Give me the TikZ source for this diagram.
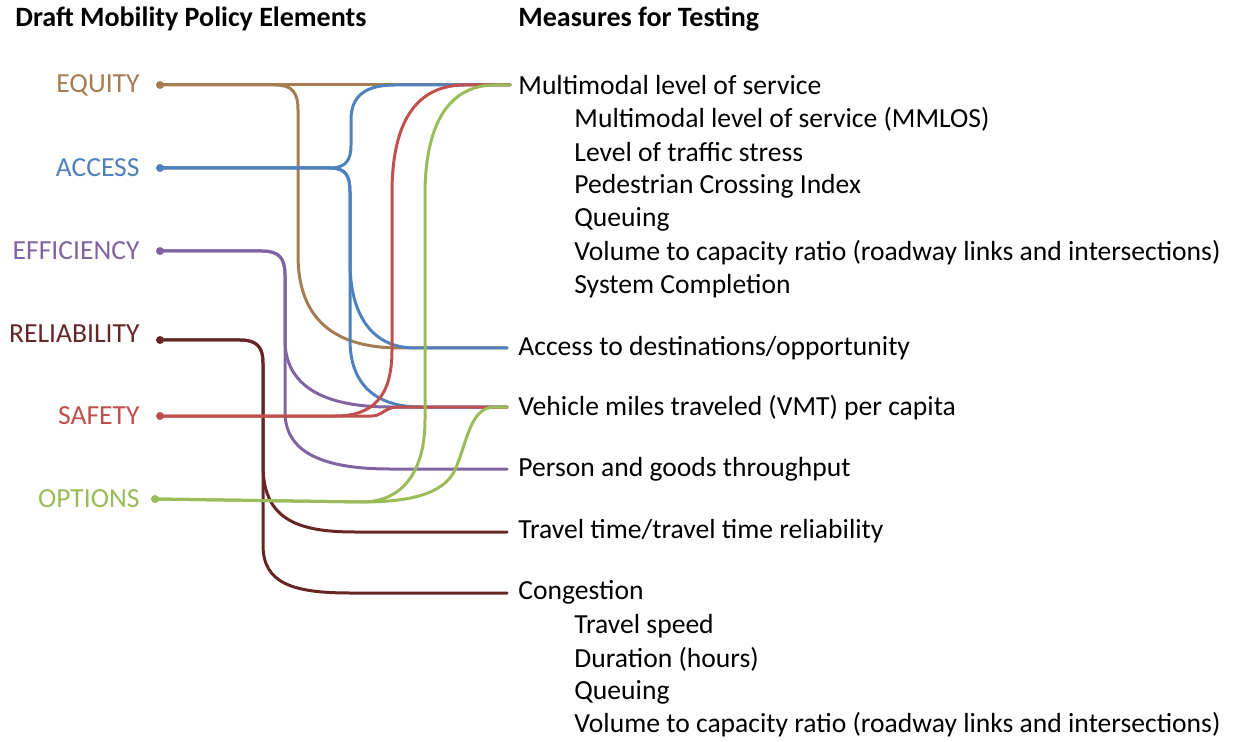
\documentclass[tikz,border=0pt]{standalone}
\usepackage{fontspec}
\setmainfont{Carlito}
\definecolor{eqc}{HTML}{A67C52}
\definecolor{acc}{HTML}{4F81BD}
\definecolor{efc}{HTML}{8064A2}
\definecolor{rec}{HTML}{662626}
\definecolor{sac}{HTML}{C0504D}
\definecolor{opc}{HTML}{9BBB59}
\begin{document}
\begin{tikzpicture}[x=0.5pt,y=-0.5pt,
  lab/.style={anchor=east,inner sep=0pt,font=\fontsize{13.8}{16}\selectfont},
  meas/.style={anchor=west,inner sep=0pt,font=\fontsize{13.8}{16}\selectfont},
  hdr/.style={anchor=west,inner sep=0pt,font=\fontsize{14}{16}\selectfont\bfseries},
  flow/.style={line width=1.5pt,line cap=round},
  pdot/.style={circle,fill,inner sep=0pt,minimum size=4pt}]
\useasboundingbox (0,0) rectangle (1234,742);
% headers
\node[hdr] (h1) at (15,19) {Draft Mobility Policy Elements};
\node[hdr] (h2) at (518,19) {Measures for Testing};
% left labels
\node[lab,text=eqc] (equity) at (140,85) {EQUITY};
\node[lab,text=acc] (access) at (140,168) {ACCESS};
\node[lab,text=efc] (efficiency) at (140,251) {EFFICIENCY};
\node[lab,text=rec] (reliability) at (140,334) {RELIABILITY};
\node[lab,text=sac] (safety) at (140,416) {SAFETY};
\node[lab,text=opc] (options) at (140,499) {OPTIONS};
% dots
\node[pdot,eqc] (deq) at (160,85) {};
\node[pdot,acc] (dac) at (160,168) {};
\node[pdot,efc] (def) at (160,251) {};
\node[pdot,rec] (dre) at (160,340) {};
\node[pdot,sac] (dsa) at (160,416) {};
\node[pdot,opc] (dop) at (155,499) {};
% measures
\node[meas] (m1t) at (518,85) {Multimodal level of service};
\node[meas] (s1) at (574,119) {Multimodal level of service (MMLOS)};
\node[meas] (s2) at (574,152) {Level of traffic stress};
\node[meas] (s3) at (574,186) {Pedestrian Crossing Index};
\node[meas] (s4) at (574,219) {Queuing};
\node[meas] (s5) at (574,253) {Volume to capacity ratio (roadway links and intersections)};
\node[meas] (s6) at (574,286) {System Completion};
\node[meas] (m2t) at (518,348) {Access to destinations/opportunity};
\node[meas] (m3t) at (518,408) {Vehicle miles traveled (VMT) per capita};
\node[meas] (m4t) at (518,469) {Person and goods throughput};
\node[meas] (m5t) at (518,531) {Travel time/travel time reliability};
\node[meas] (m6t) at (518,592) {Congestion};
\node[meas] (c1) at (574,626) {Travel speed};
\node[meas] (c2) at (574,659) {Duration (hours)};
\node[meas] (c3) at (574,692) {Queuing};
\node[meas] (c4) at (574,725) {Volume to capacity ratio (roadway links and intersections)};
% end points
\coordinate (m1) at (510,85);
\coordinate (m2) at (507,348);
\coordinate (m3) at (507,407);
\coordinate (m4) at (507,469);
\coordinate (m5) at (507,532);
\coordinate (m6) at (507,593);
% EQUITY
\draw[flow,eqc] (deq.center) -- (m1);
\draw[flow,eqc] (deq.center) -- (275,85) .. controls (292,85) and (298,92) .. (298,110) -- (298,255) .. controls (298,320) and (335,348) .. (400,348) -- (m2);
% ACCESS
\draw[flow,acc] (dac.center) -- (330,168) .. controls (346,168) and (351,160) .. (351,145) -- (351,120) .. controls (351,96) and (365,85) .. (395,85) -- (m1);
\draw[flow,acc] (dac.center) -- (330,168) .. controls (346,168) and (350,176) .. (350,192) -- (350,262) .. controls (350,315) and (372,348) .. (415,348) -- (m2);
\draw[flow,acc] (dac.center) -- (330,168) .. controls (346,168) and (350,176) .. (350,192) -- (350,340) .. controls (350,388) and (380,407) .. (420,407) -- (m3);
% EFFICIENCY
\draw[flow,efc] (def.center) -- (262,251) .. controls (279,251) and (285,258) .. (285,275) -- (285,340) .. controls (285,385) and (322,407) .. (390,407) -- (m3);
\draw[flow,efc] (def.center) -- (262,251) .. controls (279,251) and (285,258) .. (285,275) -- (285,412) .. controls (285,452) and (322,469) .. (390,469) -- (m4);
% RELIABILITY
\draw[flow,rec] (dre.center) -- (240,340) .. controls (257,340) and (263,347) .. (263,363) -- (263,465) .. controls (263,518) and (295,532) .. (355,532) -- (m5);
\draw[flow,rec] (dre.center) -- (240,340) .. controls (257,340) and (263,347) .. (263,363) -- (263,545) .. controls (263,583) and (292,593) .. (350,593) -- (m6);
% SAFETY
\draw[flow,sac] (dsa.center) -- (335,416) .. controls (372,416) and (392,398) .. (392,350) -- (392,193) .. controls (392,122) and (416,85) .. (465,85) -- (m1);
\draw[flow,sac] (dsa.center) -- (372,416) .. controls (382,416) and (385,407) .. (398,407) -- (m3);
% OPTIONS
\draw[flow,opc] (dop.center) -- (362,502) .. controls (402,502) and (425,472) .. (425,420) -- (425,195) .. controls (425,122) and (450,85) .. (495,85) -- (m1);
\draw[flow,opc] (dop.center) -- (362,502) .. controls (420,502) and (445,490) .. (455,470) .. controls (468,440) and (470,407) .. (495,407) -- (m3);
\end{tikzpicture}
\end{document}
